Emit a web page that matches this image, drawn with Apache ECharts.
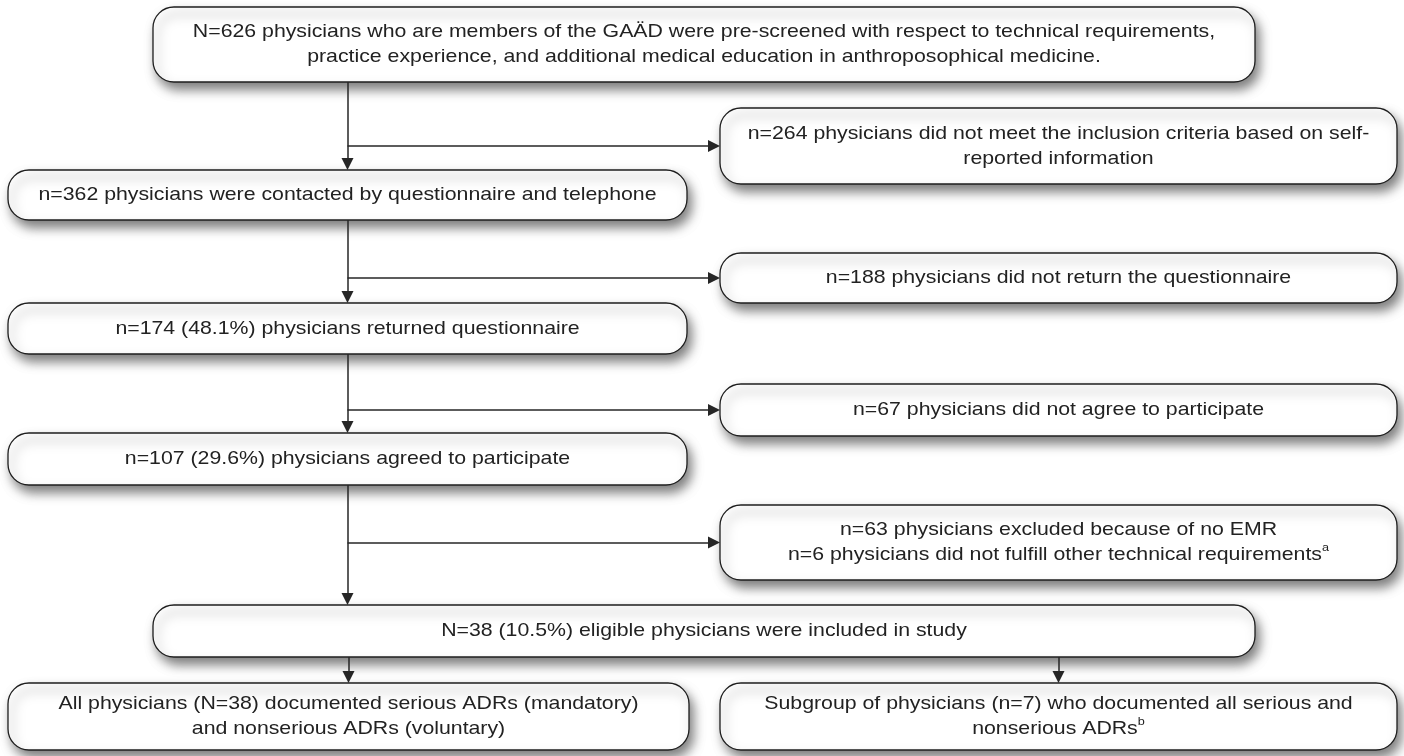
<!DOCTYPE html>
<html>
<head>
<meta charset="utf-8">
<title>Physician recruitment flowchart</title>
<script src="https://cdn.jsdelivr.net/npm/echarts@6/dist/echarts.min.js"></script>
<style>
  html, body { margin: 0; padding: 0; background: #fff; }
  #chart { width: 1404px; height: 756px; }
</style>
</head>
<body>
<div id="chart"></div>
<script>
// box texts, top to bottom ({sup|x} = footnote mark)
const boxTexts = [
  'N=626 physicians who are members of the GAÄD were pre-screened with respect to technical requirements,\npractice experience, and additional medical education in anthroposophical medicine.',
  'n=264 physicians did not meet the inclusion criteria based on self-\nreported information',
  'n=362 physicians were contacted by questionnaire and telephone',
  'n=188 physicians did not return the questionnaire',
  'n=174 (48.1%) physicians returned questionnaire',
  'n=67 physicians did not agree to participate',
  'n=107 (29.6%) physicians agreed to participate',
  'n=63 physicians excluded because of no EMR\nn=6 physicians did not fulfill other technical requirements{sup|a}',
  'N=38 (10.5%) eligible physicians were included in study',
  'All physicians (N=38) documented serious ADRs (mandatory)\nand nonserious ADRs (voluntary)',
  'Subgroup of physicians (n=7) who documented all serious and\nnonserious ADRs{sup|b}'
];

// [from, to, kind]: 'down' = main flow, 'side' = excluded branch
const flowLinks = [
  [0, 2, 'down'], [0, 1, 'side'],
  [2, 4, 'down'], [2, 3, 'side'],
  [4, 6, 'down'], [4, 5, 'side'],
  [6, 8, 'down'], [6, 7, 'side'],
  [8, 9, 'down'], [8, 10, 'down']
];

// layout only: box [left, top, width, height] in page pixels
const boxLayout = [
  [153, 7, 1102, 75],
  [720, 108, 677, 76],
  [8, 170, 679, 50],
  [720, 253, 677, 50],
  [8, 303, 679, 51],
  [720, 384, 677, 52],
  [8, 433, 679, 52],
  [720, 505, 677, 75],
  [153, 605, 1102, 52],
  [8, 683, 681, 67],
  [720, 683, 677, 67]
];

const arrowLen = 12;
const trunkX = boxLayout[2][0] + boxLayout[2][2] / 2;

const linkCoords = flowLinks.map(([a, b, kind]) => {
  const A = boxLayout[a], B = boxLayout[b];
  if (kind === 'down') {
    // vertical arrow runs through the centre of the narrower box
    const N = A[2] < B[2] ? A : B;
    const x = N[0] + N[2] / 2;
    return { coords: [[x, A[1] + A[3]], [x, B[1] - arrowLen / 2]] };
  }
  const y = B[1] + B[3] / 2;
  return { coords: [[trunkX, y], [B[0] - arrowLen / 2, y]] };
});

const chart = echarts.init(document.getElementById('chart'));

chart.setOption({
  animation: false,
  backgroundColor: '#fff',
  grid: { left: 0, right: 0, top: 0, bottom: 0 },
  xAxis: { type: 'value', min: 0, max: 1404, show: false },
  yAxis: { type: 'value', min: 0, max: 756, inverse: true, show: false },
  series: [
    {
      type: 'custom',
      coordinateSystem: 'cartesian2d',
      silent: true,
      z: 2,
      data: boxTexts.map((t, i) => [i, 0]),
      renderItem: function (params, api) {
        const b = boxLayout[params.dataIndex];
        const p0 = api.coord([b[0], b[1]]);
        const p1 = api.coord([b[0] + b[2], b[1] + b[3]]);
        const w = p1[0] - p0[0];
        const h = p1[1] - p0[1];
        return {
          type: 'group',
          children: [
            {
              type: 'rect',
              shape: { x: p0[0], y: p0[1], width: w, height: h, r: 21 },
              style: {
                fill: '#fff',
                stroke: '#1e1e1e',
                lineWidth: 1.3,
                shadowBlur: 11,
                shadowOffsetX: 4,
                shadowOffsetY: 7,
                shadowColor: 'rgba(0,0,0,0.5)'
              }
            },
            {
              type: 'text',
              x: p0[0] + w / 2,
              y: p0[1] + h / 2,
              scaleX: 1.15,
              style: {
                text: boxTexts[params.dataIndex],
                fill: '#222',
                fontFamily: 'Liberation Sans',
                fontSize: 18.5,
                lineHeight: 25,
                align: 'center',
                verticalAlign: 'middle',
                rich: {
                  sup: { fontSize: 11, lineHeight: 17, verticalAlign: 'top', fill: '#222', fontFamily: 'Liberation Sans' }
                }
              }
            }
          ]
        };
      }
    },
    {
      type: 'lines',
      coordinateSystem: 'cartesian2d',
      silent: true,
      z: 3,
      symbol: ['none', 'triangle'],
      symbolSize: [11, arrowLen],
      lineStyle: { color: '#262626', width: 1.5, opacity: 1, curveness: 0 },
      data: linkCoords
    }
  ]
});
</script>
</body>
</html>
